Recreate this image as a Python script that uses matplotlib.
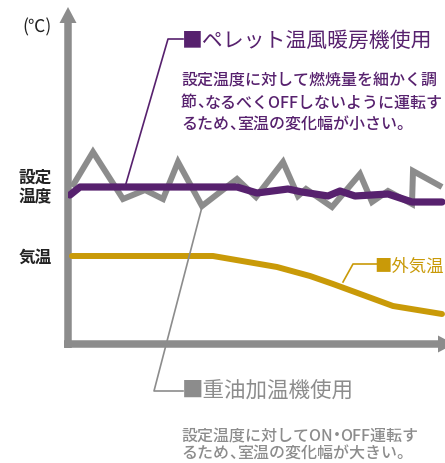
import matplotlib.pyplot as plt
from matplotlib.patches import FancyArrow

plt.rcParams['font.family'] = ['Noto Sans CJK JP', 'DejaVu Sans']

# time from the vertical axis / height above the time axis (chart units)
oil_t = [4, 25, 55, 77, 95, 110, 134, 169, 188, 215, 230, 238, 264, 292, 304, 320, 344, 345, 374]
oil_v = [157, 192, 145, 154, 145, 182, 138, 165, 147, 182, 148, 155, 137, 170, 142, 153, 140, 173, 157]

pellet_t = [2, 12, 169, 189, 220, 234, 260, 272, 287, 320, 344, 374]
pellet_v = [149, 157, 157, 151, 155, 152, 148, 153, 148, 150, 142, 142]

outside_t = [4, 145, 209, 242, 265, 325, 374]
outside_v = [88, 88, 77, 68, 60, 38, 30]

pellet_note = ['設定温度に対して燃焼量を細かく調',
               '節、なるべくOFFしないように運転す',
               'るため、室温の変化幅が小さい。']
oil_note = ['設定温度に対してON・OFF運転す',
            'るため、室温の変化幅が大きい。']

PURPLE = '#57216e'
GOLD = '#c99a08'
GRAY = '#8c8c8c'

W, H = 445, 464
fig = plt.figure(figsize=(W / 100, H / 100), dpi=100)

# overlay in pixel units for axes arrows
ov = fig.add_axes([0, 0, 1, 1])
ov.set_xlim(0, W)
ov.set_ylim(H, 0)
ov.axis('off')

ov.add_patch(FancyArrow(68, 349, 0, -341, width=7.5, head_width=17, head_length=16,
                        length_includes_head=True, color=GRAY, lw=0))
ov.add_patch(FancyArrow(64, 345, 390, 0, width=7.5, head_width=17, head_length=16,
                        length_includes_head=True, color=GRAY, lw=0))

ax = fig.add_axes([68 / W, (H - 345) / H, 377 / W, 337 / H])
ax.set_xlim(0, 377)
ax.set_ylim(0, 337)
ax.axis('off')
ax.patch.set_alpha(0)

ax.plot(outside_t, outside_v, color=GOLD, lw=4.3, solid_joinstyle='round', solid_capstyle='round')
ax.plot(oil_t, oil_v, color=GRAY, lw=4.3, solid_joinstyle='miter', solid_capstyle='butt')
ax.plot(pellet_t, pellet_v, color=PURPLE, lw=5.2, solid_joinstyle='round', solid_capstyle='round')

ov2 = fig.add_axes([0, 0, 1, 1])
ov2.set_xlim(0, W)
ov2.set_ylim(H, 0)
ov2.axis('off')
ov2.patch.set_alpha(0)

# leader lines
ov2.plot([125, 168, 183], [188, 40, 40], color=PURPLE, lw=1.2)
ov2.plot([202, 154, 183], [208, 392, 392], color=GRAY, lw=1.2)
ov2.plot([343, 353, 377], [283, 265, 265], color=GOLD, lw=1.2)

# axis labels
ov2.text(37, 27, '(℃)', fontsize=12.5, ha='center', va='center', color='#222222')
ov2.text(35, 178, '設定', fontsize=12, fontweight='bold', ha='center', va='center', color='#222222')
ov2.text(35, 197, '温度', fontsize=12, fontweight='bold', ha='center', va='center', color='#222222')
ov2.text(35, 258, '気温', fontsize=12, fontweight='bold', ha='center', va='center', color='#222222')

# series labels
ov2.text(182, 41, '■ペレット温風暖房機使用', fontsize=15, ha='left', va='center', color=PURPLE)
ov2.text(182, 392, '■重油加温機使用', fontsize=15.5, ha='left', va='center', color=GRAY)
ov2.text(374, 267, '■外気温', fontsize=12.5, ha='left', va='center', color=GOLD)

renderer = fig.canvas.get_renderer()


def draw_note(x, y, text, color, size=11.5):
    # half-width punctuation, like the original typesetting
    em = size * 100 / 72
    kw = dict(fontsize=size, fontweight='medium', ha='left', va='center', color=color)
    buf = ''
    for ch in text + '\0':
        if ch in '、・\0':
            if buf:
                t = ov2.text(x, y, buf, **kw)
                x += t.get_window_extent(renderer).width
                buf = ''
            if ch == '、':
                ov2.text(x, y, ch, **kw)
                x += 0.5 * em
            elif ch == '・':
                ov2.text(x - 0.25 * em, y, ch, **kw)
                x += 0.5 * em
        else:
            buf += ch


for i, line in enumerate(pellet_note):
    draw_note(181, 81 + 22 * i, line, PURPLE)
for i, line in enumerate(oil_note):
    draw_note(181, 436 + 18 * i, line, GRAY)

fig.savefig('out.png', dpi=100)
